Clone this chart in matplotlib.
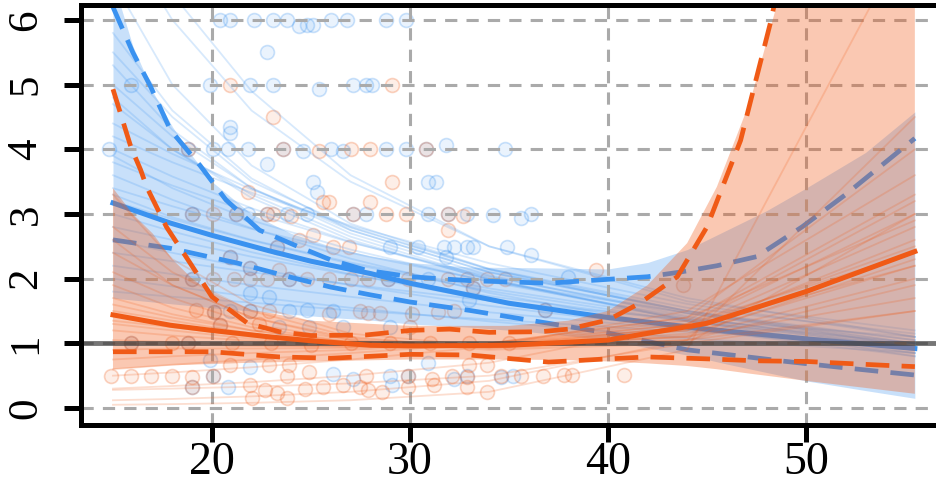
import matplotlib
matplotlib.use("Agg")
import matplotlib.pyplot as plt
from matplotlib.colors import to_rgba

# ---------------- data ----------------
x_ticks = [20, 30, 40, 50]
y_ticks = [0, 1, 2, 3, 4, 5, 6]

# observed points
blue_pts_x = [20.4, 20.9, 22.1, 23.1, 23.8, 24.4, 24.8, 25.1, 26.0, 26.8, 28.8, 29.8,
              22.8,
              15.9, 19.9, 21.9, 23.1, 25.4, 27.1, 27.8, 28.1,
              20.9, 20.9,
              14.8, 18.8, 20.05, 20.8, 21.8, 23.6, 24.6, 26.0, 26.6, 28.8, 29.8, 30.8, 31.8, 34.8,
              22.8, 25.1, 25.3, 30.9, 31.3,
              19.0, 21.2, 21.8, 22.8, 23.8, 24.8, 27.1, 27.8, 30.9, 31.9, 32.9, 34.2, 35.6, 36.1,
              23.3, 29.0, 30.4, 31.7, 32.2, 32.9, 33.2, 34.9, 36.1, 31.8,
              20.9, 21.9,
              19.0, 23.9, 28.9, 30.9, 38.0,
              21.9, 22.9, 33.2, 33.0,
              20.9, 21.9, 23.9, 24.8, 26.1, 36.8, 20.1,
              23.4, 24.9, 26.6, 29.0, 20.4,
              15.9, 18.8,
              19.9, 30.9,
              21.9, 26.1, 27.1, 29.0, 29.9, 32.2, 32.9, 20.05, 34.6, 35.2,
              19.0, 20.8, 29.1]
blue_pts_y = [6.0, 6.0, 6.0, 6.0, 6.0, 5.9, 5.93, 5.92, 6.0, 6.0, 6.0, 6.0,
              5.5,
              5.0, 5.0, 5.0, 5.0, 4.94, 5.0, 5.0, 5.0,
              4.34, 4.25,
              4.0, 4.0, 4.0, 4.0, 4.0, 4.0, 3.97, 4.0, 3.97, 4.0, 4.0, 4.0, 4.07, 4.0,
              3.78, 3.5, 3.34, 3.5, 3.5,
              3.0, 3.0, 3.0, 3.0, 3.0, 3.0, 3.0, 3.0, 3.0, 3.0, 3.0, 2.98, 2.94, 3.0,
              2.49, 2.49, 2.49, 2.49, 2.49, 2.49, 2.49, 2.49, 2.36, 2.34,
              2.34, 2.17,
              2.0, 2.0, 2.0, 2.0, 2.03,
              1.78, 1.72, 1.85, 1.67,
              1.5, 1.5, 1.5, 1.52, 1.5, 1.51, 1.48,
              1.25, 1.25, 1.25, 1.25, 1.28,
              1.0, 1.0,
              0.74, 0.69,
              0.63, 0.53, 0.45, 0.5, 0.5, 0.45, 0.5, 0.5, 0.48, 0.5,
              0.33, 0.33, 0.35]

orange_pts_x = [20.9, 29.1,
                23.1,
                18.8, 23.6, 25.4, 27.0, 28.0, 30.8,
                21.8, 29.1, 25.6, 25.9, 28.0,
                19.0, 20.05, 21.2, 22.8, 23.1, 24.0, 27.1, 28.8, 29.8, 31.9, 32.7,
                31.9,
                23.3, 25.1, 24.4, 26.1, 26.9,
                20.9, 21.9, 23.4,
                19.0, 20.05, 21.1, 21.9, 22.8, 23.9, 24.8, 25.9, 27.0, 27.9, 28.9, 29.9, 31.9,
                32.9, 33.9, 34.8, 39.4, 43.8,
                33.2,
                19.2, 20.1, 21.9, 22.9, 25.9, 27.5, 27.9, 28.5, 30.1, 31.4, 32.2, 36.8,
                20.4, 22.4, 30.0,
                15.9, 18.0, 18.8, 21.0, 23.0, 25.0, 27.0, 29.0, 31.0, 33.0, 35.0,
                23.9, 33.0, 33.9, 20.9, 22.9,
                14.9, 15.9, 16.9, 18.0, 19.0, 20.05, 23.8, 24.9, 27.8, 29.9, 31.1, 32.1, 32.9,
                34.6, 35.6, 36.7, 37.8, 38.2, 40.8,
                21.9, 22.7, 23.3, 23.8, 24.7, 25.6, 26.6, 27.5, 27.9, 28.6, 29.9, 31.2, 32.9,
                33.9, 22.0, 19.0]
orange_pts_y = [5.0, 5.0,
                4.5,
                4.0, 4.0, 3.97, 4.0, 4.0, 4.0,
                3.34, 3.5, 3.18, 3.18, 3.18,
                3.0, 3.0, 3.0, 3.0, 3.0, 2.97, 3.0, 3.0, 3.0, 3.0, 2.97,
                2.75,
                2.49, 2.67, 2.6, 2.49, 2.49,
                2.34, 2.17, 2.13,
                2.0, 2.0, 2.0, 2.0, 2.0, 2.0, 2.0, 2.0, 2.0, 2.0, 2.0, 2.0, 2.0,
                2.0, 2.0, 2.0, 2.13, 1.9,
                1.85,
                1.51, 1.48, 1.5, 1.5, 1.45, 1.5, 1.47, 1.47, 1.45, 1.48, 1.5, 1.51,
                1.28, 1.3, 1.25,
                1.0, 1.0, 1.0, 1.0, 1.0, 0.98, 1.0, 1.0, 1.0, 1.0, 1.0,
                0.66, 0.66, 0.66, 0.66, 0.66,
                0.5, 0.5, 0.5, 0.5, 0.48, 0.5, 0.5, 0.55, 0.5, 0.5, 0.45, 0.5, 0.48,
                0.5, 0.5, 0.5, 0.51, 0.51, 0.51,
                0.35, 0.28, 0.23, 0.15, 0.3, 0.33, 0.35, 0.33, 0.28, 0.25, 0.33, 0.35, 0.33,
                0.25, 0.15, 0.33]

# posterior draws (values at draw_x)
draw_x = [15, 18, 22, 27, 34, 44, 55.5]
blue_draws = [
    [6.6, 5.0, 3.75, 2.85, 2.15, 1.5, 0.95],
    [5.8, 4.6, 3.55, 2.75, 2.1, 1.5, 1.0],
    [5.3, 4.3, 3.4, 2.7, 2.05, 1.42, 0.9],
    [5.0, 4.2, 3.4, 2.75, 2.1, 1.5, 1.05],
    [4.7, 4.0, 3.3, 2.65, 2.0, 1.35, 0.85],
    [4.4, 3.93, 3.38, 2.79, 2.14, 1.47, 0.95],
    [4.2, 3.80, 3.33, 2.82, 2.24, 1.61, 1.1],
    [4.0, 3.58, 3.09, 2.57, 1.99, 1.37, 0.9],
    [3.8, 3.44, 3.02, 2.56, 2.03, 1.46, 1.0],
    [3.6, 3.22, 2.78, 2.31, 1.78, 1.23, 0.8],
    [3.4, 3.12, 2.77, 2.40, 1.96, 1.47, 1.05],
    [3.2, 2.92, 2.59, 2.23, 1.81, 1.34, 0.95],
    [3.0, 2.73, 2.41, 2.07, 1.66, 1.22, 0.85],
    [2.8, 2.60, 2.34, 2.06, 1.73, 1.34, 1.0],
    [2.6, 2.40, 2.16, 1.90, 1.58, 1.22, 0.9],
    [2.4, 2.27, 2.10, 1.91, 1.66, 1.37, 1.1],
    [2.2, 2.07, 1.90, 1.72, 1.48, 1.21, 0.95],
    [2.0, 1.88, 1.72, 1.55, 1.34, 1.08, 0.85],
    [1.8, 1.72, 1.63, 1.51, 1.37, 1.18, 1.0],
    [5.5, 4.5, 3.5, 2.8, 2.15, 1.55, 1.15],
    [4.8, 4.0, 3.25, 2.6, 1.98, 1.35, 0.8],
    [8.5, 6.4, 4.9, 3.6, 2.5, 1.65, 1.2],
    [7.5, 6.0, 4.6, 3.5, 2.5, 1.7, 1.1],
    [3.9, 3.4, 2.9, 2.45, 1.95, 1.4, 0.95],
    [3.3, 2.95, 2.6, 2.25, 1.85, 1.38, 1.0],
]
orange_draws = [
    [3.3, 2.3, 1.6, 1.15, 0.95, 1.1, 2.0],
    [2.8, 2.1, 1.5, 1.1, 0.92, 1.05, 1.9],
    [2.4, 1.9, 1.4, 1.08, 0.93, 1.12, 2.3],
    [2.1, 1.7, 1.3, 1.05, 0.95, 1.2, 2.6],
    [1.9, 1.55, 1.25, 1.02, 0.94, 1.15, 2.2],
    [1.7, 1.45, 1.2, 1.0, 0.95, 1.25, 2.8],
    [1.5, 1.35, 1.15, 1.0, 0.97, 1.2, 2.4],
    [1.35, 1.25, 1.1, 0.98, 0.97, 1.25, 2.5],
    [1.2, 1.12, 1.04, 0.97, 0.98, 1.3, 3.0],
    [1.05, 1.02, 0.98, 0.95, 0.98, 1.25, 2.2],
    [0.9, 0.92, 0.92, 0.93, 1.0, 1.35, 3.3],
    [0.75, 0.8, 0.85, 0.9, 1.0, 1.3, 2.4],
    [0.6, 0.67, 0.75, 0.85, 1.0, 1.4, 2.9],
    [0.5, 0.55, 0.63, 0.75, 0.95, 1.5, 3.6],
    [0.3, 0.34, 0.4, 0.5, 0.7, 1.3, 3.2],
    [0.12, 0.14, 0.18, 0.25, 0.42, 1.05, 4.5],
    [0.05, 0.06, 0.08, 0.12, 0.25, 0.9, 7.5],
    [2.6, 1.9, 1.4, 1.05, 0.9, 1.0, 1.5],
    [1.6, 1.4, 1.2, 1.02, 0.96, 1.1, 1.7],
    [1.3, 1.2, 1.07, 0.97, 0.94, 1.05, 1.5],
    [0.28, 0.3, 0.33, 0.38, 0.5, 1.0, 3.0],
    [1.0, 0.98, 0.96, 0.95, 1.0, 1.4, 4.0],
]

# credible bands
blue_band_x = [15, 16, 17, 18, 19, 20, 22, 24, 26, 28, 30, 33, 36, 40, 42, 44, 46, 48, 50, 53, 55.5]
blue_band_hi = [6.6, 5.6, 4.9, 4.35, 3.9, 3.5, 3.0, 2.7, 2.5, 2.35, 2.25, 2.18, 2.17, 2.15, 2.25,
                2.45, 2.75, 3.05, 3.4, 3.95, 4.58]
blue_band_lo = [1.7, 1.67, 1.64, 1.61, 1.58, 1.55, 1.5, 1.45, 1.4, 1.36, 1.3, 1.25, 1.18, 1.05,
                0.93, 0.82, 0.68, 0.55, 0.42, 0.27, 0.15]
orange_band_x = [15, 16, 17, 18, 19, 20, 22, 25, 30, 35, 38, 40, 42, 44, 45.5, 47.2, 48.5, 50, 55.5]
orange_band_hi = [3.4, 3.0, 2.7, 2.3, 2.0, 1.78, 1.52, 1.35, 1.27, 1.27, 1.35, 1.5, 1.9, 2.55,
                  3.42, 4.76, 6.2, 8.0, 16.0]
orange_band_lo = [0.6, 0.62, 0.64, 0.66, 0.67, 0.68, 0.7, 0.72, 0.75, 0.75, 0.74, 0.72, 0.69,
                  0.65, 0.6, 0.53, 0.48, 0.42, 0.22]

# summary curves
blue_mean_x = [15, 17.9, 20, 22.9, 25, 28, 30, 35, 40, 45, 50, 55.5]
blue_mean_y = [3.17, 2.86, 2.67, 2.43, 2.27, 2.08, 1.93, 1.62, 1.40, 1.22, 1.07, 0.92]
orange_mean_x = [15, 17.9, 20, 22.9, 25, 28, 30, 35, 40, 45, 50, 55.5]
orange_mean_y = [1.44, 1.28, 1.2, 1.1, 1.04, 0.97, 0.96, 0.97, 1.05, 1.31, 1.8, 2.42]

blue_hi_x = [15, 16, 16.9, 17.9, 19.4, 20.7, 22.4, 24.4, 26, 27.8, 30, 33, 37, 40, 42, 43.6,
             45.5, 47.5, 49.8, 52, 55.5]
blue_hi_y = [6.2, 5.5, 4.97, 4.3, 3.75, 3.22, 2.75, 2.49, 2.29, 2.13, 2.03, 1.97, 1.93, 1.99,
             2.03, 2.1, 2.2, 2.34, 2.8, 3.3, 4.17]
blue_lo_x = [15, 17.9, 21.3, 24, 26, 28, 30, 33, 37, 40, 44, 49, 52, 55.5]
blue_lo_y = [2.6, 2.47, 2.24, 2.02, 1.87, 1.75, 1.64, 1.51, 1.31, 1.16, 0.9, 0.72, 0.62, 0.51]

orange_hi_x = [15, 15.9, 16.4, 16.7, 17.7, 18.9, 20, 21.8, 23.4, 25, 27.8, 30, 32, 34, 36.6,
               38, 40, 41.6, 43.5, 45, 46.7, 48.2, 50, 55.5]
orange_hi_y = [4.93, 4.04, 3.68, 3.42, 2.8, 2.24, 1.72, 1.31, 1.18, 1.12, 1.13, 1.2, 1.22, 1.17,
               1.18, 1.22, 1.36, 1.62, 2.03, 2.8, 4.14, 5.95, 8.5, 18.0]
orange_lo_x = [15, 20, 23.4, 26, 30, 33, 37, 40, 42, 45, 47.5, 50, 54, 55.5]
orange_lo_y = [0.87, 0.87, 0.79, 0.77, 0.83, 0.82, 0.71, 0.76, 0.79, 0.76, 0.73, 0.72, 0.66, 0.64]

# ---------------- style ----------------
BLUE = "#3a92f0"
ORANGE = "#f05a16"
GRID = "#aaaaaa"
SERIF = ["Liberation Serif", "DejaVu Serif"]

fig = plt.figure(figsize=(9.37, 4.87), dpi=100)
ax = fig.add_axes([81.5 / 937, 62.5 / 487, 878.5 / 937, 420 / 487])
ax.set_xlim(13.41, 57.78)
ax.set_ylim(-0.255, 6.24)

# points
ax.scatter(blue_pts_x, blue_pts_y, s=100, facecolor=to_rgba(BLUE, 0.10),
           edgecolor=to_rgba(BLUE, 0.26), linewidth=1.2, zorder=1)
ax.scatter(orange_pts_x, orange_pts_y, s=100, facecolor=to_rgba(ORANGE, 0.10),
           edgecolor=to_rgba(ORANGE, 0.26), linewidth=1.2, zorder=1)

# blue band + draws
ax.fill_between(blue_band_x, blue_band_lo, blue_band_hi, color=BLUE, alpha=0.28,
                linewidth=0, zorder=2)
for d in blue_draws:
    ax.plot(draw_x, d, color=BLUE, alpha=0.2, lw=1.3, zorder=3)

# grid
for xv in x_ticks:
    ax.axvline(xv, color=GRID, lw=2.2, dashes=(4, 3), zorder=4)
for yv in y_ticks:
    ax.axhline(yv, color=GRID, lw=2.2, dashes=(4, 3), zorder=4)

# blue summary lines
ax.plot(blue_mean_x, blue_mean_y, color=BLUE, lw=3.6, zorder=5)
ax.plot(blue_hi_x, blue_hi_y, color=BLUE, lw=3.4, dashes=(5, 2.6), zorder=5)
ax.plot(blue_lo_x, blue_lo_y, color=BLUE, lw=3.4, dashes=(5, 2.6), zorder=5)

# orange band + draws
ax.fill_between(orange_band_x, orange_band_lo, orange_band_hi, color=ORANGE, alpha=0.33,
                linewidth=0, zorder=6)
for d in orange_draws:
    ax.plot(draw_x, d, color=ORANGE, alpha=0.2, lw=1.3, zorder=7)

# reference line at 1
ax.axhline(1, color="#3c3c3c", lw=3.5, alpha=0.7, zorder=7.5)

# orange summary lines
ax.plot(orange_mean_x, orange_mean_y, color=ORANGE, lw=3.6, zorder=8)
ax.plot(orange_hi_x, orange_hi_y, color=ORANGE, lw=3.4, dashes=(5, 2.6), zorder=8)
ax.plot(orange_lo_x, orange_lo_y, color=ORANGE, lw=3.4, dashes=(5, 2.6), zorder=8)

# axes styling
for side in ["top", "bottom", "left"]:
    ax.spines[side].set_linewidth(3.6)
    ax.spines[side].set_zorder(20)
ax.spines["right"].set_visible(False)

ax.set_xticks(x_ticks)
ax.set_yticks(y_ticks)
ax.set_xticklabels([str(v) for v in x_ticks], family=SERIF, fontsize=33)
ax.set_yticklabels([str(v) for v in y_ticks], family=SERIF, fontsize=31,
                   rotation=90, va="center")
ax.tick_params(axis="both", direction="out", length=12, width=3.6, color="black")
ax.tick_params(axis="y", pad=14)
ax.tick_params(axis="x", pad=0)

fig.savefig("out.png", dpi=100)
